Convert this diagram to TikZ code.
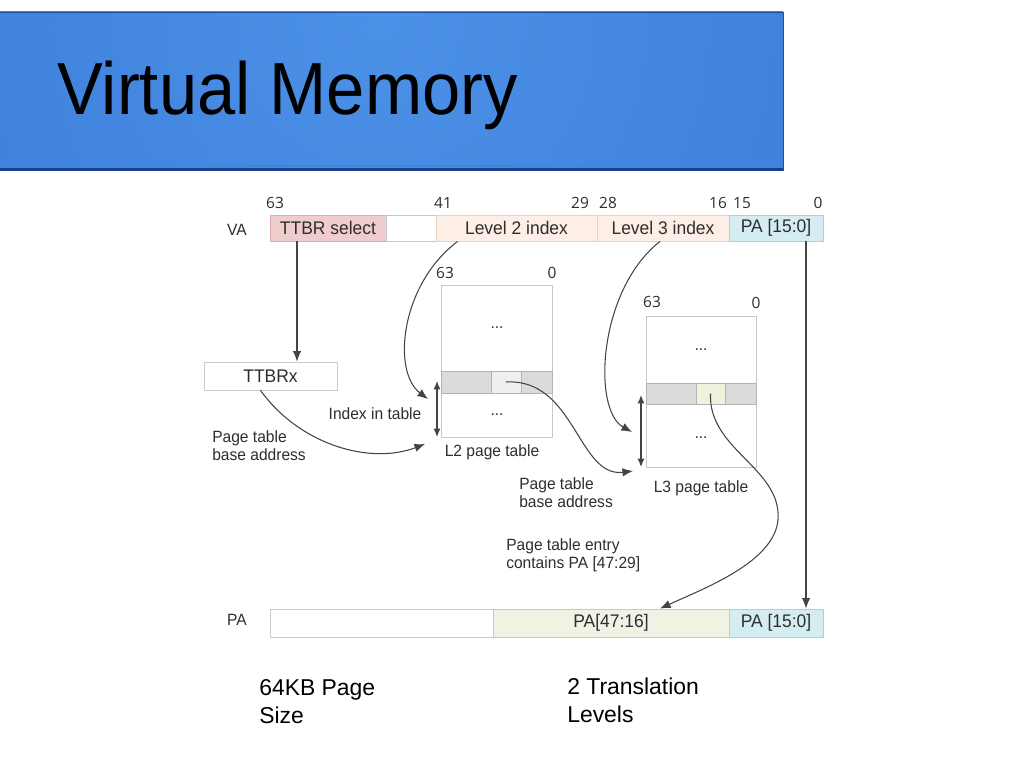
\documentclass[tikz,border=0pt]{standalone}
\usepackage{fontspec}
\setmainfont{Liberation Sans}
\newfontfamily\numfont{Open Sans}
\newfontfamily\diagfont[FakeStretch=0.955]{Liberation Sans}
\newfontfamily\titlefont[FakeStretch=0.93]{Liberation Sans}
\usetikzlibrary{arrows.meta}
\definecolor{bannerlight}{HTML}{4C91E8}
\definecolor{bannerdark}{HTML}{2966C6}
\definecolor{bannerline}{HTML}{1B3F8C}
\definecolor{bannerhi}{HTML}{3E86E2}
\definecolor{txt}{HTML}{2E2E2E}
\definecolor{lne}{HTML}{444444}
\definecolor{bord}{HTML}{C8C8C8}
\definecolor{pinkf}{HTML}{F0CDCD}
\definecolor{pinkb}{HTML}{DBAEAE}
\definecolor{peachf}{HTML}{FDEFE6}
\definecolor{peachb}{HTML}{E6D3C6}
\definecolor{cyanf}{HTML}{D3EDF3}
\definecolor{cyanb}{HTML}{AAD0DA}
\definecolor{greenf}{HTML}{EEF3E3}
\definecolor{grayrow}{HTML}{D9DCDA}
\definecolor{midltwo}{HTML}{EEF0EE}
\definecolor{midlthree}{HTML}{EEF3DE}
\tikzset{
  txtstyle/.style={text=txt, font=\diagfont\fontsize{11.6}{12.8}\selectfont},
  boxtxt/.style={text=txt, font=\diagfont\fontsize{13}{14}\selectfont},
  fieldbox/.style={draw=bord, line width=0.6pt, inner sep=0pt, minimum height=0.65cm, boxtxt},
  pabox/.style={draw=bord, line width=0.6pt, inner sep=0pt, minimum height=0.7cm, boxtxt},
  tablebox/.style={draw=bord, line width=0.6pt, fill=white, inner sep=0pt},
  rowcell/.style={draw=bord!90!black, line width=0.6pt, fill=grayrow, inner sep=0pt},
  bitnum/.style={text=txt, font=\numfont\fontsize{11}{12}\selectfont, inner sep=0pt},
  lbl/.style={txtstyle, inner sep=0pt, align=left},
  conn/.style={draw=lne, line width=0.75pt, -{Latex[length=7.5pt,width=6pt]}},
  dblarr/.style={draw=lne, line width=0.75pt, {Latex[length=6pt,width=5pt]}-{Latex[length=6pt,width=5pt]}},
  bigtxt/.style={text=black, font=\fontsize{16.3}{19.9}\selectfont, inner sep=0pt, align=left}
}
\begin{document}
\begin{tikzpicture}[x=0.025cm,y=-0.025cm]
\useasboundingbox (0,0) rectangle (1024,768);
\fill[white] (0,0) rectangle (1024,768);
% banner
\begin{scope}
\clip (0,12) rectangle (783,171);
\shade[inner color=bannerlight, outer color=bannerdark] (380,25) circle (1100);
\fill[bannerhi] (0,165) rectangle (783,167.5);
\fill[bannerline] (0,168) rectangle (783,171);
\end{scope}
\draw[bannerdark!80!black, line width=0.4pt] (0,12) -- (783,12) -- (783,171);
\node[anchor=base west, inner sep=0pt, font=\titlefont\fontsize{52.5}{58}\selectfont, text=black] (title) at (57,115) {Virtual Memory};

% VA row
\node[txtstyle, inner sep=0pt] (valbl) at (237,230) {VA};
\node[fieldbox, fill=pinkf, draw=pinkb, minimum width=2.9cm] (ttbr) at (328,228) {TTBR select};
\node[fieldbox, fill=white, minimum width=1.25cm] (vablank) at (411,228) {};
\node[fieldbox, fill=peachf, draw=peachb, minimum width=4.025cm] (l2i) at (516.5,228) {Level 2 index};
\node[fieldbox, fill=peachf, draw=peachb, minimum width=3.3cm] (l3i) at (663,228) {Level 3 index};
\node[fieldbox, fill=cyanf, draw=cyanb, minimum width=2.35cm] (vapa) at (776,228) {PA [15:0]};

% bit numbers
\node[bitnum] (b63) at (275,203) {63};
\node[bitnum] (b41) at (443,203) {41};
\node[bitnum] (b29) at (580,203) {29};
\node[bitnum] (b28) at (608,203) {28};
\node[bitnum] (b16) at (718,203) {16};
\node[bitnum] (b15) at (742,203) {15};
\node[bitnum] (b0) at (818,203) {0};

% TTBRx
\node[pabox, fill=white, minimum width=3.325cm] (ttbrx) at (270.5,376) {TTBRx};

% L2 table
\node[tablebox, minimum width=2.775cm, minimum height=3.8cm] (l2tab) at (496.5,361) {};
\node[rowcell, minimum width=1.25cm, minimum height=0.55cm] (l2left) at (466,382) {};
\node[rowcell, fill=midltwo, minimum width=0.75cm, minimum height=0.55cm] (l2mid) at (506,382) {};
\node[rowcell, minimum width=0.775cm, minimum height=0.55cm] (l2right) at (536.5,382) {};
\node[txtstyle, inner sep=0pt] (l2dotsa) at (497,328) {...};
\node[txtstyle, inner sep=0pt] (l2dotsb) at (497,415) {...};
\node[bitnum] (l2b63) at (445,273) {63};
\node[bitnum] (l2b0) at (552,273) {0};
\node[txtstyle, inner sep=0pt] (l2name) at (492,452) {L2 page table};

% L3 table
\node[tablebox, minimum width=2.75cm, minimum height=3.775cm] (l3tab) at (701,391.5) {};
\node[rowcell, minimum width=1.25cm, minimum height=0.525cm] (l3left) at (671,393.5) {};
\node[rowcell, fill=midlthree, minimum width=0.725cm, minimum height=0.525cm] (l3mid) at (710.5,393.5) {};
\node[rowcell, minimum width=0.775cm, minimum height=0.525cm] (l3right) at (740.5,393.5) {};
\node[txtstyle, inner sep=0pt] (l3dotsa) at (701,350) {...};
\node[txtstyle, inner sep=0pt] (l3dotsb) at (701,438) {...};
\node[bitnum] (l3b63) at (652,302) {63};
\node[bitnum] (l3b0) at (756,303) {0};
\node[txtstyle, inner sep=0pt] (l3name) at (701,488) {L3 page table};

% PA row
\node[txtstyle, inner sep=0pt] (palbl) at (237,620) {PA};
\node[pabox, fill=white, minimum width=5.575cm] (pablank) at (381.5,623) {};
\node[pabox, fill=greenf, minimum width=5.9cm] (pahi) at (611,623) {PA[47:16]};
\node[pabox, fill=cyanf, draw=cyanb, minimum width=2.35cm] (palo) at (776,623) {PA [15:0]};

% labels
\node[txtstyle, inner sep=0pt] (idxlbl) at (375,414) {Index in table};
\node[lbl, anchor=west] (ptba1) at (212,446) {Page table\\base address};
\node[lbl, anchor=west] (ptba2) at (519,493) {Page table\\base address};
\node[lbl, anchor=west] (pte) at (506,555) {Page table entry\\contains PA [47:29]};

% bottom texts
\node[bigtxt, anchor=west] (pgsize) at (259,702) {64KB Page\\Size};
\node[bigtxt, anchor=west] (levels) at (567,700) {2 Translation\\Levels};

% free-end coordinates
\coordinate (l2tip) at (428,399);
\coordinate (l2base) at (425,444);
\coordinate (l3tip) at (632,432);
\coordinate (l3base) at (633,471);
\coordinate (l2top) at (437,381);
\coordinate (l2bot) at (437,437);
\coordinate (l3top) at (641,395);
\coordinate (l3bot) at (641,467);

% connectors
\draw[conn] ([xshift=-0.775cm]ttbr.south) coordinate (s1) -- (s1 |- ttbrx.north);
\draw[conn] ([xshift=0.75cm]vapa.south) coordinate (s2) -- (s2 |- palo.north);
\draw[conn] ([xshift=0.55cm]l2i.south west) .. controls (400,285) and (392,372) .. (l2tip);
\draw[conn] ([xshift=-0.25cm]ttbrx.south) .. controls (300,445) and (370,465) .. (l2base);
\draw[conn] ([xshift=-0.075cm]l3i.south) .. controls (598,290) and (592,410) .. (l3tip);
\draw[conn] (l2mid.center) .. controls (575,378) and (578,478) .. (l3base);
\draw[conn] (l3mid.center) .. controls (708,450) and (782,468) .. (778,520) .. controls (774,562) and (705,588) .. ([xshift=1.225cm]pahi.north);
\draw[dblarr] (l2top) -- (l2bot);
\draw[dblarr] (l3top) -- (l3bot);
\end{tikzpicture}
\end{document}
